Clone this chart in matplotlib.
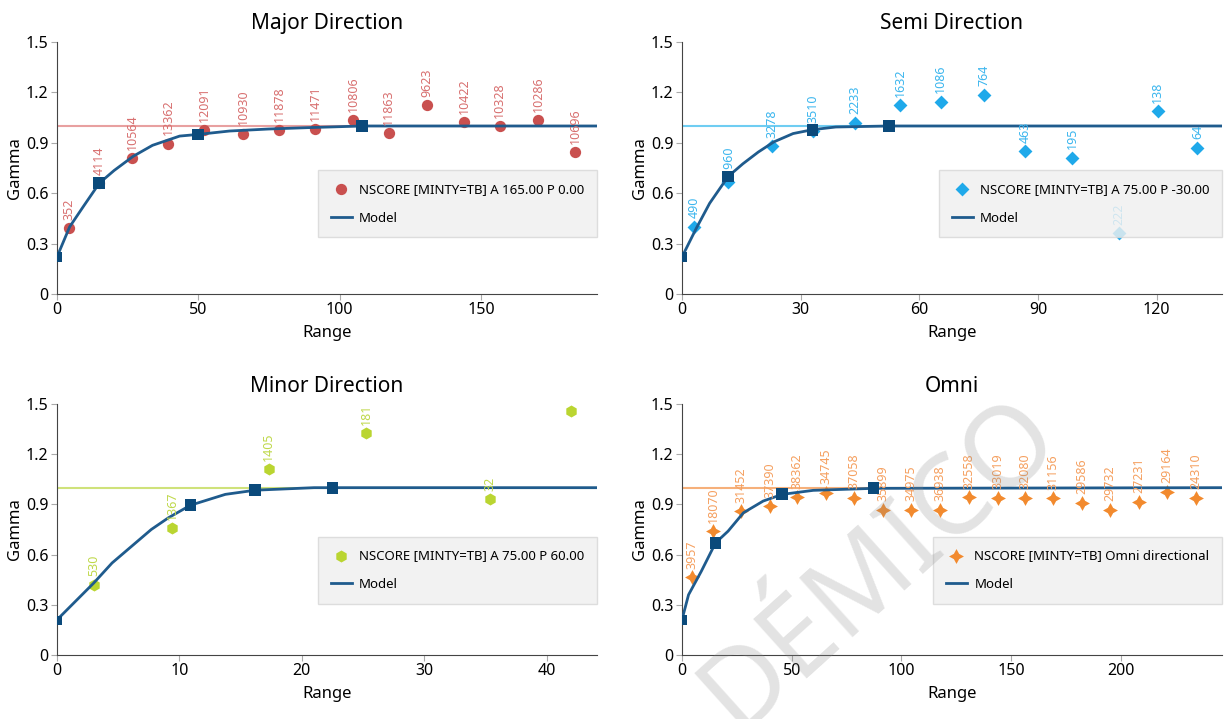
import matplotlib
matplotlib.use('Agg')
import matplotlib.pyplot as plt
from matplotlib.ticker import FuncFormatter

plt.rcParams['font.family'] = ['Noto Sans', 'DejaVu Sans']

# --- Major Direction ---
major_x = [4.1, 15.0, 26.7, 39.3, 52.0, 65.8, 78.6, 91.4, 104.8, 117.3, 131.0, 144.0, 156.6, 170.3, 183.2]
major_y = [0.39, 0.66, 0.807, 0.895, 0.974, 0.954, 0.974, 0.982, 1.034, 0.958, 1.125, 1.022, 0.998, 1.034, 0.845]
major_n = ['352', '4114', '10564', '13362', '12091', '10930', '11878', '11471', '10806', '11863', '9623',
           '10422', '10328', '10286', '10696']
major_model_x = [0, 4.5, 9.3, 15.0, 20.2, 27.0, 33.8, 43.4, 50.0, 61.0, 74.8, 88.4, 108.0, 191.0]
major_model_y = [0.22, 0.40, 0.52, 0.66, 0.735, 0.82, 0.885, 0.94, 0.95, 0.97, 0.982, 0.99, 1.0, 1.0]
major_sq_x = [0, 15.0, 50.0, 108.0]
major_sq_y = [0.22, 0.66, 0.95, 1.0]

# --- Semi Direction ---
semi_x = [3.1, 11.7, 22.7, 33.0, 43.8, 55.1, 65.4, 76.4, 86.7, 98.7, 110.5, 120.3, 130.3]
semi_y = [0.40, 0.666, 0.88, 0.97, 1.02, 1.123, 1.145, 1.187, 0.849, 0.811, 0.362, 1.087, 0.871]
semi_n = ['490', '1960', '3278', '3510', '2233', '1632', '1086', '764', '463', '195', '222', '138', '64']
semi_model_x = [0, 3.6, 7.0, 11.7, 15.4, 19.3, 23.2, 28.1, 33.0, 38.9, 52.4, 136.5]
semi_model_y = [0.22, 0.39, 0.54, 0.70, 0.775, 0.845, 0.905, 0.955, 0.978, 0.994, 1.0, 1.0]
semi_sq_x = [0, 11.7, 33.0, 52.4]
semi_sq_y = [0.22, 0.70, 0.974, 1.0]

# --- Minor Direction ---
minor_x = [3.0, 9.4, 17.3, 25.25, 35.4, 42.0]
minor_y = [0.42, 0.76, 1.11, 1.325, 0.932, 1.46]
minor_n = ['530', '1367', '1405', '181', '32', '12']
minor_model_x = [0, 3.0, 4.5, 7.7, 9.1, 10.9, 13.75, 16.2, 21.0, 44.0]
minor_model_y = [0.21, 0.43, 0.55, 0.75, 0.82, 0.895, 0.96, 0.985, 1.0, 1.0]
minor_sq_x = [0, 10.9, 16.2, 22.5]
minor_sq_y = [0.207, 0.896, 0.986, 0.998]

# --- Omni ---
omni_x = [4.4, 14.1, 26.9, 39.9, 52.4, 65.6, 78.6, 91.4, 104.2, 117.4, 130.6, 143.8, 156.4, 169.2,
          182.4, 195.1, 208.3, 221.1, 234.3]
omni_y = [0.466, 0.74, 0.86, 0.89, 0.944, 0.97, 0.94, 0.868, 0.868, 0.868, 0.944, 0.94, 0.94, 0.936,
          0.91, 0.868, 0.916, 0.976, 0.94]
omni_n = ['3957', '18070', '31452', '37390', '38362', '34745', '37058', '35899', '34975', '36938',
          '32558', '33019', '32080', '31156', '29586', '29732', '27231', '29164', '24310']
omni_model_x = [0, 3.0, 8.8, 15.3, 21.0, 28.0, 37.0, 45.7, 59.8, 87.3, 246.0]
omni_model_y = [0.21, 0.36, 0.50, 0.67, 0.74, 0.85, 0.92, 0.96, 0.984, 0.996, 1.0]
omni_sq_x = [0, 15.3, 45.7, 87.3]
omni_sq_y = [0.21, 0.67, 0.96, 0.996]

MODEL = '#1f5b8d'
SQ = '#0b4a7b'


def draw(ax, title, xs, ys, labels, color, lab_color, sill_color, marker, msize,
         legend_text, mx, my, sqx, sqy, xmax, xticks, leg_y):
    ax.axhline(1.0, color=sill_color, lw=1.5, zorder=1)
    pts = ax.scatter(xs, ys, marker=marker, s=msize, color=color, linewidths=0, zorder=2)
    line, = ax.plot(mx, my, color=MODEL, lw=2, zorder=3)
    # first square (at range 0) is drawn smaller
    ax.scatter(sqx, sqy, marker='s', s=[45] + [72] * (len(sqx) - 1), color=SQ, linewidths=0, zorder=4)
    for x, y, t in zip(xs, ys, labels):
        ax.annotate(t, (x, y), xytext=(0, 6), textcoords='offset points', rotation=90,
                    ha='center', va='bottom', fontsize=9, color=lab_color, clip_on=True, zorder=3)
    ax.set_xlim(0, xmax)
    ax.set_ylim(0, 1.5)
    ax.set_xticks(xticks)
    ax.set_yticks([0, 0.3, 0.6, 0.9, 1.2, 1.5])
    ax.yaxis.set_major_formatter(FuncFormatter(lambda v, p: '0' if v == 0 else f'{v:.1f}'))
    ax.set_title(title, fontsize=15, pad=9)
    ax.set_xlabel('Range', fontsize=12, labelpad=5)
    ax.set_ylabel('Gamma', fontsize=12, labelpad=2)
    for s in ['top', 'right']:
        ax.spines[s].set_visible(False)
    for s in ['left', 'bottom']:
        ax.spines[s].set_color('#444444')
    ax.tick_params(length=4, color='#aaaaaa', labelsize=11.5, pad=2)
    leg = ax.legend([pts, line], [legend_text, 'Model'], loc='lower right',
                    bbox_to_anchor=(1.0, leg_y), borderaxespad=0, fancybox=False,
                    facecolor='#f0f0f0', edgecolor='#d8d8d8', framealpha=0.82, fontsize=9.5,
                    handlelength=1.6, handletextpad=0.55, borderpad=0.95, labelspacing=1.2)
    leg.set_zorder(6)


fig = plt.figure(figsize=(12.25, 7.19), dpi=100)
ax1 = fig.add_axes([0.0465, 0.5911, 0.4408, 0.3505])
ax2 = fig.add_axes([0.5567, 0.5911, 0.4408, 0.3505])
ax3 = fig.add_axes([0.0465, 0.0890, 0.4408, 0.3491])
ax4 = fig.add_axes([0.5567, 0.0890, 0.4408, 0.3491])

draw(ax1, 'Major Direction', major_x, major_y, major_n, '#c9504f', '#d87070', '#e8a0a0', 'o', 66,
     'NSCORE [MINTY=TB] A 165.00 P 0.00', major_model_x, major_model_y, major_sq_x, major_sq_y,
     191, [0, 50, 100, 150], 0.226)
draw(ax2, 'Semi Direction', semi_x, semi_y, semi_n, '#1fa9ea', '#3cb6ee', '#6fcdf2', 'D', 50,
     'NSCORE [MINTY=TB] A 75.00 P -30.00', semi_model_x, semi_model_y, semi_sq_x, semi_sq_y,
     136.5, [0, 30, 60, 90, 120], 0.226)
draw(ax3, 'Minor Direction', minor_x, minor_y, minor_n, '#bad531', '#bfd84a', '#cfe27a', 'h', 75,
     'NSCORE [MINTY=TB] A 75.00 P 60.00', minor_model_x, minor_model_y, minor_sq_x, minor_sq_y,
     44.1, [0, 10, 20, 30, 40], 0.205)
draw(ax4, 'Omni', omni_x, omni_y, omni_n, '#f28a2e', '#f5a060', '#f6b07a', (4, 1, 0), 115,
     'NSCORE [MINTY=TB] Omni directional', omni_model_x, omni_model_y, omni_sq_x, omni_sq_y,
     246, [0, 50, 100, 150, 200], 0.205)

# watermark
fig.text(0.718, 0.215, 'DÉMICO', fontsize=80, fontweight='bold', color='#8a8a8a', alpha=0.24,
         rotation=42, ha='center', va='center')

fig.savefig('out.png', dpi=100)
